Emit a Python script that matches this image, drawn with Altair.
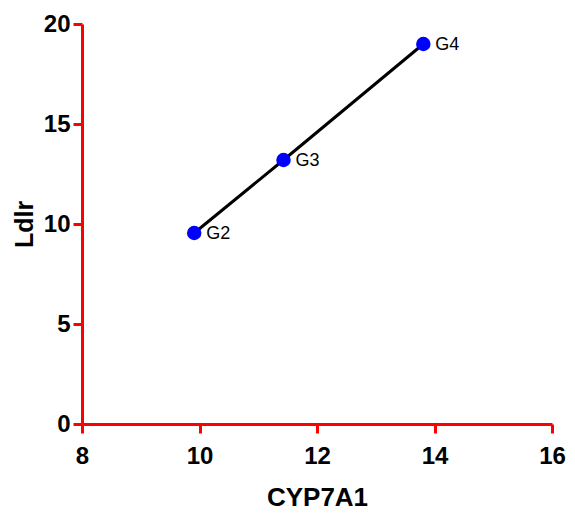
import altair as alt
import pandas as pd

groups = ["G2", "G3", "G4"]
cyp7a1 = [9.91, 11.43, 13.81]
ldlr = [9.55, 13.2, 19.0]

df = pd.DataFrame({"group": groups, "CYP7A1": cyp7a1, "Ldlr": ldlr})

xs = alt.Scale(domain=[8, 16], nice=False, zero=False)
ys = alt.Scale(domain=[0, 20], nice=False)

x_axis = alt.Axis(values=[8, 10, 12, 14, 16], title="CYP7A1", grid=False,
                  domainColor="#ff0000", domainWidth=3, tickColor="#ff0000",
                  tickWidth=3, tickSize=9, labelFont="Liberation Sans",
                  labelFontWeight="bold", labelFontSize=24, labelColor="black",
                  labelPadding=11, titleFont="Liberation Sans", titleFontWeight="bold",
                  titleFontSize=26, titleColor="black", titlePadding=16, labelFlush=False)
y_axis = alt.Axis(values=[0, 5, 10, 15, 20], title="Ldlr", grid=False,
                  domainColor="#ff0000", domainWidth=3, tickColor="#ff0000",
                  tickWidth=3, tickSize=9, labelFont="Liberation Sans",
                  labelFontWeight="bold", labelFontSize=24, labelColor="black",
                  labelPadding=3, titleFont="Liberation Sans", titleFontWeight="bold",
                  titleFontSize=25, titleColor="black", titlePadding=6, labelFlush=False)

base = alt.Chart(df).encode(
    x=alt.X("CYP7A1:Q", scale=xs, axis=x_axis),
    y=alt.Y("Ldlr:Q", scale=ys, axis=y_axis),
)

line = base.mark_line(color="black", strokeWidth=3)
pts = base.mark_point(filled=True, color="#0000ff", size=210, opacity=1)
labels = base.mark_text(align="left", baseline="middle", dx=12, dy=1,
                        font="Liberation Sans", fontSize=18, color="black").encode(text="group:N")

chart = (line + pts + labels).properties(
    width=470, height=400,
    autosize=alt.AutoSizeParams(type="none"),
    padding={"left": 74, "top": 16, "right": 15, "bottom": 89},
).configure_view(stroke=None)

chart.save("out.html", embed_options={"renderer": "svg", "actions": False})
